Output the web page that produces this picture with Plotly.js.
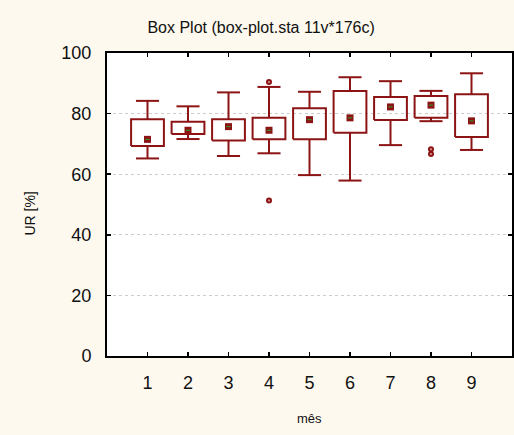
<!DOCTYPE html>
<html>
<head>
<meta charset="utf-8">
<script src="https://cdn.plot.ly/plotly-3.0.1.min.js"></script>
<style>
  html, body { margin: 0; padding: 0; background: #fdf9ee; }
  #chart { width: 514px; height: 435px; }
</style>
</head>
<body>
<div id="chart"></div>
<script>
// Monthly relative humidity (UR %) summary statistics
const months      = [1, 2, 3, 4, 5, 6, 7, 8, 9];
const upperWhisk  = [84.2, 82.4, 87.0, 88.8, 87.2, 92.0, 90.7, 87.5, 93.3];
const q3          = [78.1, 77.3, 78.1, 78.6, 81.8, 87.5, 85.5, 85.8, 86.4];
const medians     = [71.5, 74.5, 75.7, 74.5, 78.0, 78.6, 82.2, 82.8, 77.6];
const q1          = [69.3, 73.3, 71.1, 71.5, 71.5, 73.7, 77.9, 78.6, 72.3];
const lowerWhisk  = [65.2, 71.6, 66.0, 66.9, 59.7, 57.9, 69.6, 77.5, 68.0];
const outlierX    = [4, 4, 8, 8];
const outlierY    = [90.4, 51.3, 68.2, 66.7];
const xTickLabels = ['', '1', '2', '3', '4', '5', '6', '7', '8', '9', ''];

const boxColor = '#8c1414';
const halfBox = 0.405;
const halfCap = 0.285;

// Box outlines and whiskers as line segments separated by nulls
const bx = [], by = [];
months.forEach((m, i) => {
  bx.push(m - halfBox, m + halfBox, m + halfBox, m - halfBox, m - halfBox, null);
  by.push(q1[i], q1[i], q3[i], q3[i], q1[i], null);
  bx.push(m, m, null, m - halfCap, m + halfCap, null);
  by.push(q3[i], upperWhisk[i], null, upperWhisk[i], upperWhisk[i], null);
  bx.push(m, m, null, m - halfCap, m + halfCap, null);
  by.push(q1[i], lowerWhisk[i], null, lowerWhisk[i], lowerWhisk[i], null);
});

const traces = [
  {
    x: bx, y: by, type: 'scatter', mode: 'lines',
    line: { color: boxColor, width: 2 }, hoverinfo: 'skip', connectgaps: false
  },
  {
    x: months, y: medians, type: 'scatter', mode: 'markers',
    marker: { symbol: 'square', size: 7, color: boxColor, line: { width: 0 } }
  },
  {
    x: months, y: medians, type: 'scatter', mode: 'markers',
    marker: { symbol: 'line-ew-open', size: 3, line: { color: '#e6b0b0', width: 1 } }
  },
  {
    x: outlierX, y: outlierY, type: 'scatter', mode: 'markers',
    marker: { symbol: 'circle', size: 6, color: boxColor, line: { width: 0 } }
  },
  {
    x: outlierX, y: outlierY, type: 'scatter', mode: 'markers',
    marker: { symbol: 'circle', size: 2, color: '#e2a0a0', line: { width: 0 } }
  }
];

const layout = {
  width: 514, height: 435,
  paper_bgcolor: '#fdf9ee',
  plot_bgcolor: '#ffffff',
  showlegend: false,
  margin: { l: 107, r: 2, t: 53, b: 79 },
  font: { family: 'Liberation Sans, Arial, sans-serif', color: '#111' },
  title: {
    text: 'Box Plot (box-plot.sta 11v*176c)',
    font: { size: 16, color: '#111' },
    x: 0.508, xanchor: 'center', y: 0.936, yanchor: 'middle'
  },
  xaxis: {
    range: [0, 10], tickmode: 'array',
    tickvals: [0, 1, 2, 3, 4, 5, 6, 7, 8, 9, 10], ticktext: xTickLabels,
    ticks: 'inside', ticklen: 4, tickwidth: 1.5, tickcolor: '#000',
    showline: true, linecolor: '#000', linewidth: 2, mirror: 'ticks',
    showgrid: false, zeroline: false,
    tickfont: { size: 18, color: '#111' }, ticklabelstandoff: 9
  },
  yaxis: {
    range: [0, 100], tickvals: [0, 20, 40, 60, 80, 100],
    ticks: 'inside', ticklen: 4, tickwidth: 1.5, tickcolor: '#000',
    showline: true, linecolor: '#000', linewidth: 2, mirror: 'ticks',
    showgrid: true, gridcolor: '#cccccc', griddash: 'dot', gridwidth: 1,
    zeroline: false,
    tickfont: { size: 18, color: '#111' }, ticklabelstandoff: 10
  },
  annotations: [
    {
      text: 'mês', xref: 'paper', yref: 'paper', x: 0.5, y: 0,
      xanchor: 'center', yanchor: 'middle', yshift: -62, showarrow: false,
      font: { size: 13, color: '#111' }
    },
    {
      text: 'UR [%]', xref: 'paper', yref: 'paper', x: 0, y: 0.47,
      xanchor: 'center', yanchor: 'middle', xshift: -77, textangle: -90,
      showarrow: false, font: { size: 14, color: '#111' }
    }
  ]
};

Plotly.newPlot('chart', traces, layout, { displayModeBar: false, staticPlot: true });
</script>
</body>
</html>
